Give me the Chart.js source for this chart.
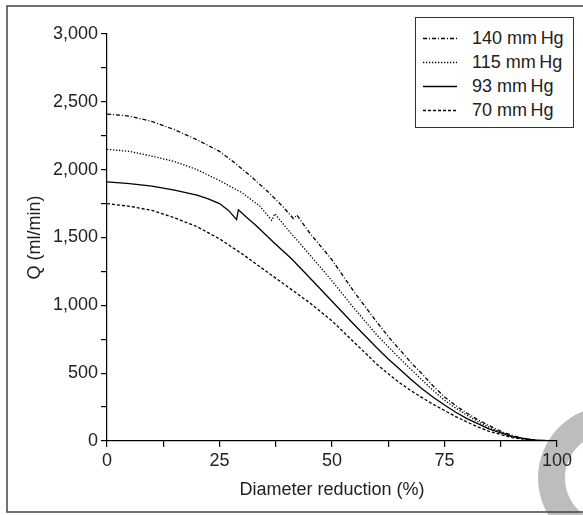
<!DOCTYPE html>
<html>
<head>
<meta charset="utf-8">
<script src="https://cdn.jsdelivr.net/npm/chart.js@4/dist/chart.umd.min.js"></script>
<style>
  html, body { margin: 0; padding: 0; background: #fff; }
  #wrap { position: relative; width: 583px; height: 515px; overflow: hidden; }
  #c { position: absolute; left: 0; top: 0; }
  #legend { position: absolute; left: 415px; top: 17px; width: 157px; height: 109px;
            border: 1px solid #333; background: #fff; font-family: "Liberation Sans", Arial, sans-serif;
            font-size: 18px; color: #222; }
  .row { position: absolute; left: 0; height: 22px; width: 157px; }
  .row svg { position: absolute; left: 7px; top: 10px; }
  .row span { position: absolute; left: 56px; top: 0; line-height: 22px; white-space: nowrap; }
</style>
</head>
<body>
<div id="wrap">
  <canvas id="c" width="583" height="515"></canvas>
  <div id="legend"></div>
</div>
<script>
// ---- Data ----
const seriesLabels = ["140 mm\u2009Hg", "115 mm\u2009Hg", "93 mm\u2009Hg", "70 mm\u2009Hg"];

const d140 = [0, 5, 10, 15, 20, 25, 28, 32, 36, 39, 41.4, 42.2, 45, 50, 55, 60, 62.5, 65, 67.5, 70, 72.5, 75, 77.5, 80, 82.5, 85, 87.5, 90, 92.5, 95, 97.5, 100];
const q140 = [2410, 2395, 2355, 2295, 2220, 2135, 2060, 1950, 1830, 1730, 1640, 1665, 1535, 1335, 1095, 875, 770, 675, 580, 495, 405, 325, 260, 205, 155, 112, 72, 42, 20, 8, 2, 0];

const d115 = [0, 5, 10, 15, 20, 25, 30, 34, 36.6, 37.3, 40, 45, 50, 55, 60, 62.5, 65, 67.5, 70, 72.5, 75, 77.5, 80, 82.5, 85, 87.5, 90, 92.5, 95, 97.5, 100];
const q115 = [2150, 2135, 2100, 2060, 2000, 1920, 1830, 1730, 1626, 1675, 1565, 1375, 1180, 975, 780, 695, 610, 530, 450, 372, 300, 242, 190, 142, 100, 65, 35, 17, 6, 1, 0];

const d93 = [0, 5, 10, 15, 20, 22.5, 25, 27, 28.8, 29.2, 31, 33, 37, 41, 45, 50, 55, 60, 62.5, 65, 67.5, 70, 72.5, 75, 77.5, 80, 85, 90, 95, 100];
const q93 = [1910, 1897, 1878, 1850, 1812, 1785, 1750, 1700, 1632, 1705, 1650, 1592, 1465, 1343, 1205, 1030, 855, 685, 605, 530, 455, 385, 322, 265, 212, 165, 88, 33, 6, 0];

const d70 = [0, 5, 10, 15, 20, 25, 30, 35, 40, 45, 50, 55, 60, 62.5, 65, 67.5, 70, 72.5, 75, 77.5, 80, 82.5, 85, 90, 95, 100];
const q70 = [1750, 1730, 1700, 1645, 1580, 1490, 1380, 1260, 1140, 1020, 885, 725, 565, 495, 430, 372, 320, 270, 225, 180, 140, 103, 70, 25, 4, 0];

const xTickLabels = [0, 25, 50, 75, 100];
const yTickLabels = [0, 500, 1000, 1500, 2000, 2500, 3000];

// ---- Styles ----
const dashes = [[4, 2, 1, 2], [1.3, 1.7], [], [3, 2]];
const FONT = "'Liberation Sans', Arial, Helvetica, sans-serif";
const TEXT = '#222';

function pts(xs, ys) { return xs.map((x, i) => ({ x: x, y: ys[i] })); }
const seriesData = [pts(d140, q140), pts(d115, q115), pts(d93, q93), pts(d70, q70)];

const datasets = seriesData.map((d, i) => ({
  label: seriesLabels[i],
  data: d,
  showLine: true,
  borderColor: '#000',
  backgroundColor: '#000',
  borderWidth: 1.3,
  borderDash: dashes[i],
  pointRadius: 0,
  tension: 0
}));

const decor = {
  id: 'decor',
  beforeDraw(chart) {
    const ctx = chart.ctx;
    ctx.save();
    // grey ring in bottom-right corner
    ctx.fillStyle = '#bdbdbd';
    ctx.beginPath();
    ctx.arc(610, 478, 72, 0, Math.PI * 2);
    ctx.arc(610, 478, 45, 0, Math.PI * 2, true);
    ctx.fill('evenodd');
    // outer frame
    ctx.strokeStyle = '#444';
    ctx.lineWidth = 1.5;
    ctx.strokeRect(7, 6, 620, 506);
    ctx.restore();
  }
};

new Chart(document.getElementById('c'), {
  type: 'scatter',
  data: { datasets: datasets },
  plugins: [decor],
  options: {
    responsive: false,
    animation: false,
    layout: { padding: { left: 7, top: 34, right: 26, bottom: 0 } },
    plugins: { legend: { display: false }, tooltip: { enabled: false } },
    scales: {
      x: {
        type: 'linear', min: 0, max: 100,
        ticks: {
          stepSize: 12.5, autoSkip: false, maxRotation: 0, padding: 3,
          color: TEXT, font: { family: FONT, size: 18 },
          callback: v => xTickLabels.includes(v) ? String(v) : ''
        },
        grid: { drawOnChartArea: false, drawTicks: true, tickLength: 6, color: '#000', lineWidth: 1.2 },
        border: { color: '#000', width: 1.2 },
        title: { display: true, text: 'Diameter reduction (%)', color: TEXT,
                 font: { family: FONT, size: 18 }, padding: { top: 0, bottom: 14 } },
        afterFit: s => { s.height = 74; }
      },
      y: {
        type: 'linear', min: 0, max: 3000,
        ticks: {
          stepSize: 250, autoSkip: false, padding: 3,
          color: TEXT, font: { family: FONT, size: 18 },
          callback: v => yTickLabels.includes(v) ? v.toLocaleString('en-US') : ''
        },
        grid: { drawOnChartArea: false, drawTicks: true, tickLength: 6, color: '#000', lineWidth: 1.2 },
        border: { color: '#000', width: 1.2 },
        title: { display: true, text: 'Q (ml/min)', color: TEXT,
                 font: { family: FONT, size: 18 }, padding: { top: 17, bottom: 0 } },
        afterFit: s => { s.width = 100; }
      }
    }
  }
});

// ---- HTML legend built from the dataset labels and dash styles ----
const legend = document.getElementById('legend');
const rowCenters = [20, 44, 68, 92];
seriesLabels.forEach((lab, i) => {
  const row = document.createElement('div');
  row.className = 'row';
  row.style.top = (rowCenters[i] - 11) + 'px';
  const dash = dashes[i].length ? dashes[i].join(' ') : 'none';
  row.innerHTML = '<svg width="34" height="3"><line x1="0" y1="1.5" x2="34" y2="1.5" stroke="#000" stroke-width="1.3" stroke-dasharray="' + dash + '"/></svg><span></span>';
  row.querySelector('span').textContent = lab;
  legend.appendChild(row);
});
</script>
</body>
</html>
